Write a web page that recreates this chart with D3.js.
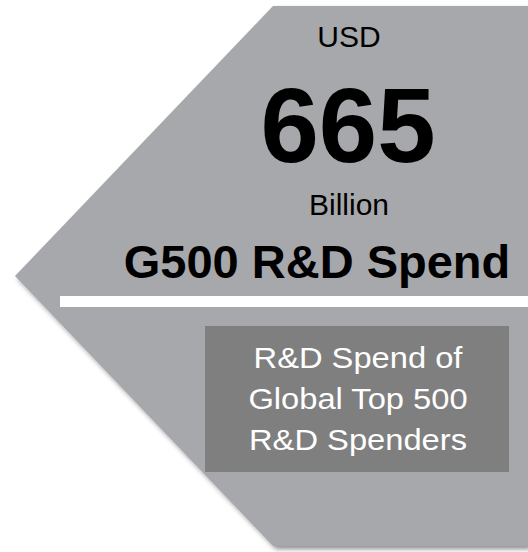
<!DOCTYPE html>
<html>
<head>
<meta charset="utf-8">
<script src="https://cdn.jsdelivr.net/npm/d3@7"></script>
<style>
  body { margin: 0; background: #fff; }
</style>
</head>
<body>
<script>
// infographic data
var unit = "USD";
var value = 665;
var scaleWord = "Billion";
var title = "G500 R&D Spend";
var noteLines = ["R&D Spend of", "Global Top 500", "R&D Spenders"];

var width = 528;
var height = 552;

var svg = d3.select("body")
    .append("svg")
    .attr("width", width)
    .attr("height", height);

var defs = svg.append("defs");
var f = defs.append("filter")
    .attr("id", "shadow")
    .attr("x", "-10%").attr("y", "-10%")
    .attr("width", "130%").attr("height", "130%");
f.append("feDropShadow")
    .attr("dx", 3).attr("dy", 3)
    .attr("stdDeviation", 2.5)
    .attr("flood-color", "#000")
    .attr("flood-opacity", 0.45);

// arrow-shaped panel pointing left
var shape = [[273, 6], [528, 6], [528, 546], [273, 546], [15, 276]];
svg.append("path")
    .attr("d", d3.line()(shape) + "Z")
    .attr("fill", "#a7a8ab")
    .attr("filter", "url(#shadow)");

var font = "Arial, 'Liberation Sans', Helvetica, sans-serif";

svg.append("text")
    .attr("x", 349).attr("y", 47)
    .attr("text-anchor", "middle")
    .style("font-family", font)
    .style("font-size", "30px")
    .attr("fill", "#000")
    .text(unit);

svg.append("text")
    .attr("x", 348).attr("y", 162)
    .attr("text-anchor", "middle")
    .style("font-family", font)
    .style("font-size", "105px")
    .style("font-weight", "bold")
    .attr("fill", "#000")
    .text(d3.format("d")(value));

svg.append("text")
    .attr("x", 349).attr("y", 215)
    .attr("text-anchor", "middle")
    .style("font-family", font)
    .style("font-size", "30px")
    .attr("fill", "#000")
    .text(scaleWord);

svg.append("text")
    .attr("x", 317).attr("y", 278)
    .attr("text-anchor", "middle")
    .style("font-family", font)
    .style("font-size", "47px")
    .style("font-weight", "bold")
    .attr("fill", "#000")
    .text(title);

// white divider
svg.append("rect")
    .attr("x", 60).attr("y", 296)
    .attr("width", width - 60).attr("height", 11)
    .attr("fill", "#fff");

// note box
svg.append("rect")
    .attr("x", 205).attr("y", 326)
    .attr("width", 304).attr("height", 146)
    .attr("fill", "#7f7f7f");

var y = d3.scalePoint()
    .domain(noteLines)
    .range([368, 450]);

var note = svg.append("g")
    .attr("transform", "translate(358,0) scale(1.09,1)");

note.selectAll(".note")
    .data(noteLines)
    .enter()
    .append("text")
    .attr("class", "note")
    .attr("x", 0)
    .attr("y", function(d) { return y(d); })
    .attr("text-anchor", "middle")
    .style("font-family", font)
    .style("font-size", "30px")
    .attr("fill", "#fff")
    .text(function(d) { return d; });
</script>
</body>
</html>
